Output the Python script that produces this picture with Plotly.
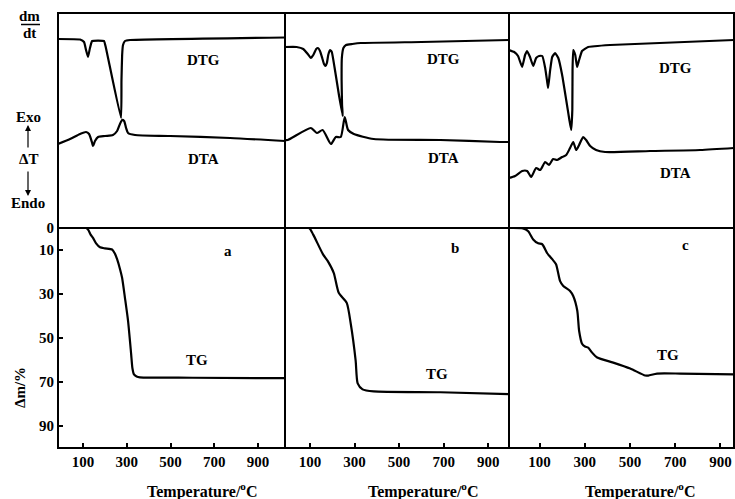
import plotly.graph_objects as go

W, H = 735, 499
FONT = "Liberation Serif"

# ---------------- data (temperature in °C, signals in arbitrary units, TG in %) -------------
# Panel a
dtg_a_T = [-14, 87, 105, 114, 123, 132, 142, 196, 205, 274, 276, 279, 283, 292, 315, 1023]
dtg_a_v = [189, 188.5, 186, 178, 171, 180, 187, 187, 180, 110, 148, 173, 183, 187, 188, 190.5]
dta_a_T = [-14, 41, 87, 114, 128, 142, 146, 155, 169, 201, 237, 256, 269, 279, 288, 297, 306, 338, 498, 772, 1023]
dta_a_v = [84, 89, 94, 96, 94, 85, 82, 87, 91, 92, 93, 97, 104, 108, 107, 100, 95, 93, 92, 90, 87]
tg_a_T = [-14, 115, 125, 135, 146, 160, 178, 200, 233, 245, 256, 270, 279, 292, 306, 320, 326, 333, 345, 360, 600, 1023]
tg_a_m = [0, 0, 1, 3, 4.5, 7, 8.8, 9.3, 9.8, 11.5, 14.2, 19, 22.8, 31.9, 42.3, 57.2, 63.9, 66.7, 67.6, 68, 68.2, 68.4]

# Panel b
dtg_b_T = [-12, 40, 70, 90, 104, 115, 128, 136, 145, 155, 163, 170, 176, 182, 190, 198, 210, 230, 247, 244, 242, 243, 250, 262, 290, 328, 600, 993]
dtg_b_v = [181, 181, 179, 174, 170, 173, 179, 180, 177, 170, 164, 162, 165, 173, 178, 176, 161, 133, 112, 123, 148, 170, 180, 183, 184, 185, 186, 188]
dta_b_T = [-12, 0, 104, 131, 157, 194, 216, 238, 256, 271, 297, 386, 685, 953, 993]
dta_b_v = [88, 88, 100, 95, 98, 84, 91, 91, 111, 98, 94, 89, 88, 86, 86]
tg_b_T = [-12, 96, 114, 158, 180, 207, 229, 265, 283, 305, 314, 336, 386, 685, 993]
tg_b_m = [0, 0, 2.9, 11.9, 15.1, 20.5, 29.5, 34.1, 43.6, 60.4, 70.8, 73.5, 74.4, 74.8, 75.7]

# Panel c
dtg_c_T = [-35, -12, 5, 23, 36, 45, 58, 72, 85, 98, 112, 125, 134, 138, 147, 156, 169, 183, 200, 218, 232, 240, 245, 246, 249, 258, 266, 275, 288, 315, 412, 960]
dtg_c_v = [178, 176, 172, 161, 173, 177, 171, 162, 170, 172, 172, 160, 146, 140, 158, 171, 175, 170, 153, 128, 108, 98, 118, 158, 178, 173, 161, 168, 177, 181, 183, 188]
dta_c_T = [-35, -8, 23, 45, 63, 85, 103, 125, 142, 160, 178, 200, 218, 235, 249, 262, 275, 293, 306, 324, 350, 390, 589, 810, 960]
dta_c_v = [50, 52, 57, 57, 51, 60, 58, 66, 63, 69, 68, 71, 73, 80, 86, 78, 83, 91, 88, 82, 78, 76, 77, 78, 80]
tg_c_T = [-35, 27, 50, 72, 94, 112, 134, 156, 173, 191, 205, 235, 249, 267, 275, 288, 301, 315, 332, 355, 426, 501, 567, 581, 620, 722, 960]
tg_c_m = [0, 0.2, 1.5, 5.2, 7.0, 7.4, 11.5, 14.2, 16.5, 24.2, 26.4, 28.7, 31.0, 37.7, 46.8, 52.7, 54.0, 54.5, 56.7, 59.0, 61.3, 64.0, 67.2, 67.2, 66.3, 66.3, 66.7]

x_tickvals = [100, 300, 500, 700, 900]
y_tickvals = [0, 10, 30, 50, 70, 90]
panel_letters = ["a", "b", "c"]

# ---------------- layout helpers ----------------
def px(x):
    return x / W

def py(y):
    return 1 - y / H

x_ranges = [[-14, 1023], [-12, 993], [-35, 960]]
x_dom = [[px(58), px(285)], [px(285), px(509)], [px(509), px(734)]]
top_dom = [py(228), py(13)]
bot_dom = [py(448), py(228)]

fig = go.Figure()
sharp = dict(color="black", width=2.2, shape="spline", smoothing=0.35)
smooth = dict(color="black", width=2.2, shape="spline", smoothing=0.6)

panels = [
    (dtg_a_T, dtg_a_v, dta_a_T, dta_a_v, tg_a_T, tg_a_m),
    (dtg_b_T, dtg_b_v, dta_b_T, dta_b_v, tg_b_T, tg_b_m),
    (dtg_c_T, dtg_c_v, dta_c_T, dta_c_v, tg_c_T, tg_c_m),
]
for i, (gT, gv, aT, av, tT, tm) in enumerate(panels):
    top_x = "x%d" % (i + 1) if i else "x"
    top_y = "y%d" % (i + 1) if i else "y"
    bx, by = "x%d" % (i + 4), "y%d" % (i + 4)
    fig.add_trace(go.Scatter(x=gT, y=gv, mode="lines", line=sharp, xaxis=top_x, yaxis=top_y, showlegend=False))
    fig.add_trace(go.Scatter(x=aT, y=av, mode="lines", line=smooth, xaxis=top_x, yaxis=top_y, showlegend=False))
    fig.add_trace(go.Scatter(x=tT, y=tm, mode="lines", line=smooth, xaxis=bx, yaxis=by, showlegend=False))

ax_common = dict(showline=True, mirror=True, linecolor="black", linewidth=1,
                 showgrid=False, zeroline=False, automargin=False)
tickfont = dict(family=FONT, size=15, color="black", weight="bold")
lay = {}
for i in range(3):
    tk = "xaxis%d" % (i + 1) if i else "xaxis"
    yk = "yaxis%d" % (i + 1) if i else "yaxis"
    lay[tk] = dict(ax_common, domain=x_dom[i], range=x_ranges[i], anchor="y%d" % (i + 1) if i else "y",
                   showticklabels=False, ticks="")
    lay[yk] = dict(ax_common, domain=top_dom, range=[0, 215], anchor="x%d" % (i + 1) if i else "x",
                   showticklabels=False, ticks="")
    lay["xaxis%d" % (i + 4)] = dict(ax_common, domain=x_dom[i], range=x_ranges[i], anchor="y%d" % (i + 4),
                                    tickvals=x_tickvals, ticks="inside", ticklen=5, tickwidth=2,
                                    tickcolor="black", tickfont=tickfont)
    lay["yaxis%d" % (i + 4)] = dict(ax_common, domain=bot_dom, range=[100.2, 0], anchor="x%d" % (i + 4),
                                    tickvals=y_tickvals if i == 0 else [], ticks="inside" if i == 0 else "",
                                    ticklen=5, tickwidth=2, tickcolor="black",
                                    showticklabels=(i == 0), tickfont=tickfont)
fig.update_layout(**lay)

ann = []
def text(x, y, s, size=15, angle=0):
    ann.append(dict(x=px(x), y=py(y), xref="paper", yref="paper", text=s, showarrow=False,
                    textangle=angle, font=dict(family=FONT, size=size, color="black", weight="bold"),
                    xanchor="center", yanchor="middle"))

for (x, y) in [(203, 60), (443, 59), (675, 68)]:
    text(x, y, "DTG")
for (x, y) in [(203, 159), (443, 158), (675, 173)]:
    text(x, y, "DTA")
for (x, y) in [(197, 360), (437, 374), (668, 355)]:
    text(x, y, "TG")
for (x, y), s in zip([(228, 251), (455, 248), (685, 245)], panel_letters):
    text(x, y, s)
for x in [202, 423, 640]:
    text(x, 490, "Temperature/<sup>o</sup>C", size=16)
text(20, 388, "Δm/%", angle=-90)
text(30, 16, "dm")
text(30, 33, "dt")
text(28, 117, "Exo")
text(28, 159, "ΔT")
text(28, 203, "Endo")
# arrows
for (head, tail) in [(125, 149), (196, 170)]:
    ann.append(dict(x=px(28), y=py(head), xref="paper", yref="paper", ax=0, ay=tail - head,
                    axref="pixel", ayref="pixel", text="", showarrow=True, arrowhead=2,
                    arrowsize=1, arrowwidth=1.2, arrowcolor="black"))

fig.update_layout(
    annotations=ann,
    shapes=[dict(type="line", xref="paper", yref="paper", x0=px(21), x1=px(40), y0=py(24.5), y1=py(24.5),
                 line=dict(color="black", width=1.5)),
            dict(type="rect", xref="paper", yref="paper", x0=px(58), x1=px(734), y0=py(448), y1=py(13),
                 line=dict(color="black", width=2))],
    width=W, height=H, margin=dict(l=0, r=0, t=0, b=0),
    paper_bgcolor="white", plot_bgcolor="white",
)
fig.write_html("out.html", config={"displayModeBar": False},
               post_script="document.body.style.margin='0px';document.body.style.overflow='hidden';")
